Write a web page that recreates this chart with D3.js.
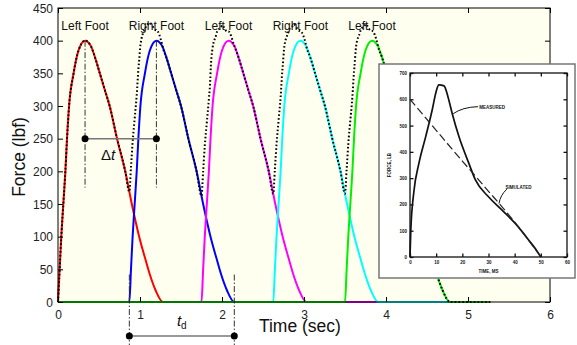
<!DOCTYPE html>
<html>
<head>
<meta charset="utf-8">
<script src="https://cdn.jsdelivr.net/npm/d3@7"></script>
<style>
  body { margin: 0; background: #fff; }
  svg { display: block; font-family: Arial, "Liberation Sans", sans-serif; }
</style>
</head>
<body>
<div id="chart"></div>
<script>
// axis ticks
const timeTicks = [0, 1, 2, 3, 4, 5, 6];
const forceTicks = [0, 50, 100, 150, 200, 250, 300, 350, 400, 450];

// one foot strike: force (lbf) against time since heel contact (sec)
const pulseTau = [0, 0.02, 0.04, 0.065, 0.09, 0.11, 0.135, 0.19, 0.25, 0.33, 0.40, 0.45, 0.51, 0.57, 0.63, 0.72, 0.82, 0.90, 0.99, 1.06, 1.12, 1.19, 1.28];
const pulseForce = [0, 50, 100, 150, 200, 250, 300, 350, 385, 400, 392, 375, 350, 325, 300, 250, 200, 150, 100, 68, 42, 18, 0];

// successive steps
const footStarts = [0, 0.87, 1.75, 2.625, 3.5];
const footLabels = ["Left Foot", "Right Foot", "Left Foot", "Right Foot", "Left Foot"];
const footColors = ["#ff0000", "#0000ff", "#ff00ff", "#00ffff", "#00f000"];
const seriesEnd = 5.27;

// annotation levels (lbf)
const footLabelForce = 422;
const peakDashBottom = 175;
const deltaForce = 250;
const deltaLabel = { t: 0.61, force: 218 };
const tdTop = 42;
const tdBottom = -72;
const tdLineForce = -52;
const tdLabelForce = -36;

// inset: measured vs simulated single footfall (ms, lb)
const insetTimeTicks = [0, 10, 20, 30, 40, 50, 60];
const insetForceTicks = [0, 100, 200, 300, 400, 500, 600, 700];
const measuredMs = [0, 0.3, 1.5, 3.4, 6, 8.5, 10, 11, 13, 14.5, 16.1, 18.7, 22.5, 25, 30, 35.2, 40.3, 45.4, 49.2, 50];
const measuredLb = [0, 100, 250, 356, 458, 560, 630, 655, 651, 610, 547, 458, 356, 293, 229, 178, 127, 64, 13, 0];
const simulatedMs = [0, 10, 20, 25, 30, 35, 40, 45, 50];
const simulatedLb = [600, 482, 365, 308, 250, 193, 133, 68, 0];

const width = 577;
const height = 345;
const margin = { top: 8, right: 27, bottom: 43, left: 58 };
const innerWidth = width - margin.left - margin.right;
const innerHeight = height - margin.top - margin.bottom;

const x = d3.scaleLinear().domain([0, 6]).range([0, innerWidth]);
const y = d3.scaleLinear().domain([0, 450]).range([innerHeight, 0]);

const svg = d3.select("#chart")
  .append("svg")
  .attr("width", width)
  .attr("height", height);

const root = svg.append("g")
  .attr("transform", `translate(${margin.left}, ${margin.top})`);

root.append("rect")
  .attr("width", innerWidth)
  .attr("height", innerHeight)
  .attr("fill", "#fffff0");

const pulseEnd = pulseTau[pulseTau.length - 1];
const peakTau = pulseTau[d3.maxIndex(pulseForce)];

function pulseAt(tau) {
  if (tau <= 0 || tau >= pulseEnd) return 0;
  const i = d3.bisectRight(pulseTau, tau);
  const t0 = pulseTau[i - 1];
  const t1 = pulseTau[i];
  return pulseForce[i - 1] + (pulseForce[i] - pulseForce[i - 1]) * (tau - t0) / (t1 - t0);
}

const feet = footStarts.map((start, i) => {
  const values = [];
  if (start > 0) values.push({ t: 0, f: 0 });
  pulseTau.forEach((tau, j) => values.push({ t: start + tau, f: pulseForce[j] }));
  values.push({ t: seriesEnd, f: 0 });
  return { start, label: footLabels[i], color: footColors[i], values };
});

// dotted curve = total of all foot forces
const allTimes = Array.from(new Set(feet.flatMap((foot) => foot.values.map((v) => v.t))))
  .sort(d3.ascending);
const total = allTimes.map((t) => ({ t, f: d3.sum(footStarts, (s) => pulseAt(t - s)) }));

const line = d3.line()
  .x((d) => x(d.t))
  .y((d) => y(d.f))
  .curve(d3.curveMonotoneX);

root.selectAll(".foot-line")
  .data(feet)
  .join("path")
  .attr("class", "foot-line")
  .attr("fill", "none")
  .attr("stroke", (d) => d.color)
  .attr("stroke-width", 2)
  .attr("stroke-linejoin", "round")
  .attr("d", (d) => line(d.values));

root.append("path")
  .attr("fill", "none")
  .attr("stroke", "#000")
  .attr("stroke-width", 2)
  .attr("stroke-dasharray", "1.6 2.2")
  .attr("d", line(total));

// foot labels
root.selectAll(".foot-label")
  .data(feet)
  .join("text")
  .attr("class", "foot-label")
  .attr("x", (d) => x(d.start + peakTau))
  .attr("y", y(footLabelForce))
  .attr("dy", "0.35em")
  .attr("text-anchor", "middle")
  .attr("font-size", 12)
  .attr("fill", "#111")
  .text((d) => d.label);

// delta t between the first two peaks
const dashStyle = "6 2 1.5 2";
const peakTimes = [feet[0].start + peakTau, feet[1].start + peakTau];
root.selectAll(".peak-dash")
  .data(peakTimes)
  .join("line")
  .attr("class", "peak-dash")
  .attr("x1", (d) => x(d))
  .attr("x2", (d) => x(d))
  .attr("y1", y(400))
  .attr("y2", y(peakDashBottom))
  .attr("stroke", "#333")
  .attr("stroke-width", 1)
  .attr("stroke-dasharray", dashStyle);

root.append("line")
  .attr("x1", x(peakTimes[0]))
  .attr("x2", x(peakTimes[1]))
  .attr("y1", y(deltaForce))
  .attr("y2", y(deltaForce))
  .attr("stroke", "#777")
  .attr("stroke-width", 1.5);

root.selectAll(".delta-dot")
  .data(peakTimes)
  .join("circle")
  .attr("class", "delta-dot")
  .attr("cx", (d) => x(d))
  .attr("cy", y(deltaForce))
  .attr("r", 3.5)
  .attr("fill", "#000");

const deltaText = root.append("text")
  .attr("x", x(deltaLabel.t))
  .attr("y", y(deltaLabel.force))
  .attr("text-anchor", "middle")
  .attr("font-size", 15)
  .attr("fill", "#111");
deltaText.append("tspan").text("Δ");
deltaText.append("tspan").attr("font-style", "italic").text("t");

// t_d : duration of one foot contact
const tdTimes = [feet[1].start, feet[1].start + pulseEnd];
root.selectAll(".td-dash")
  .data(tdTimes)
  .join("line")
  .attr("class", "td-dash")
  .attr("x1", (d) => x(d))
  .attr("x2", (d) => x(d))
  .attr("y1", y(tdTop))
  .attr("y2", y(tdBottom))
  .attr("stroke", "#333")
  .attr("stroke-width", 1)
  .attr("stroke-dasharray", dashStyle);

root.append("line")
  .attr("x1", x(tdTimes[0]))
  .attr("x2", x(tdTimes[1]))
  .attr("y1", y(tdLineForce))
  .attr("y2", y(tdLineForce))
  .attr("stroke", "#777")
  .attr("stroke-width", 1.5);

root.selectAll(".td-dot")
  .data(tdTimes)
  .join("circle")
  .attr("class", "td-dot")
  .attr("cx", (d) => x(d))
  .attr("cy", y(tdLineForce))
  .attr("r", 3.5)
  .attr("fill", "#000");

const tdText = root.append("text")
  .attr("x", x(d3.mean(tdTimes)))
  .attr("y", y(tdLabelForce))
  .attr("text-anchor", "middle")
  .attr("font-size", 15)
  .attr("fill", "#111");
tdText.append("tspan").attr("font-style", "italic").text("t");
tdText.append("tspan").attr("font-size", 10).attr("dy", 3).text("d");

// axes, ticks pointing inward on all four sides
function styleAxis(axis) {
  axis.attr("font-family", null).attr("font-size", null);
  axis.select(".domain").remove();
  axis.selectAll("line").attr("stroke", "#000");
  axis.selectAll("text").attr("font-size", 12).attr("fill", "#222");
}
function dropLabels(axis) {
  axis.selectAll("text").remove();
}

root.append("g")
  .attr("transform", `translate(0, ${innerHeight})`)
  .call(d3.axisBottom(x).tickValues(timeTicks).tickFormat(d3.format("d"))
    .tickSizeInner(-5).tickSizeOuter(0).tickPadding(8))
  .call(styleAxis)
  .call((axis) => axis.selectAll("text").attr("y", 16.5).attr("dy", null));

root.append("g")
  .call(d3.axisLeft(y).tickValues(forceTicks).tickFormat(d3.format("d"))
    .tickSizeInner(-5).tickSizeOuter(0).tickPadding(5))
  .call(styleAxis)
  .call((axis) => axis.selectAll("text").attr("dy", 4.2));

root.append("g")
  .call(d3.axisTop(x).tickValues(timeTicks).tickSizeInner(-5).tickSizeOuter(0))
  .call(styleAxis)
  .call(dropLabels);

root.append("g")
  .attr("transform", `translate(${innerWidth}, 0)`)
  .call(d3.axisRight(y).tickValues(forceTicks).tickSizeInner(-5).tickSizeOuter(0))
  .call(styleAxis)
  .call(dropLabels);

root.append("rect")
  .attr("width", innerWidth)
  .attr("height", innerHeight)
  .attr("fill", "none")
  .attr("stroke", "#000")
  .attr("stroke-width", 1);

svg.append("text")
  .attr("transform", `translate(19, ${margin.top + innerHeight / 2 + 2}) rotate(-90)`)
  .attr("text-anchor", "middle")
  .attr("dy", "0.35em")
  .attr("font-size", 17.5)
  .attr("fill", "#111")
  .text("Force (lbf)");

svg.append("text")
  .attr("x", margin.left + x(2.95))
  .attr("y", 332)
  .attr("text-anchor", "middle")
  .attr("font-size", 17.5)
  .attr("fill", "#111")
  .text("Time (sec)");

// inset: reproduced measured/simulated footfall figure
const insetBox = { x: 379, y: 64, w: 196, h: 214 };
const insetPlot = { left: 410, right: 567, top: 73, bottom: 257 };
const inset = svg.append("g");

inset.append("rect")
  .attr("x", insetBox.x)
  .attr("y", insetBox.y)
  .attr("width", insetBox.w)
  .attr("height", insetBox.h)
  .attr("fill", "#fff")
  .attr("stroke", "#777")
  .attr("stroke-width", 1.5);

const ix = d3.scaleLinear().domain([0, 60]).range([insetPlot.left, insetPlot.right]);
const iy = d3.scaleLinear().domain([0, 700]).range([insetPlot.bottom, insetPlot.top]);

function styleInsetAxis(axis) {
  axis.attr("font-family", null).attr("font-size", null);
  axis.select(".domain").remove();
  axis.selectAll("line").attr("stroke", "#111").attr("stroke-width", 1.3);
  axis.selectAll("text")
    .attr("font-size", 4.5)
    .attr("font-weight", "bold")
    .attr("fill", "#111");
}

inset.append("g")
  .attr("transform", `translate(0, ${insetPlot.bottom})`)
  .call(d3.axisBottom(ix).tickValues(insetTimeTicks).tickSizeInner(-3.5).tickSizeOuter(0).tickPadding(4))
  .call(styleInsetAxis);
inset.append("g")
  .attr("transform", `translate(${insetPlot.left}, 0)`)
  .call(d3.axisLeft(iy).tickValues(insetForceTicks).tickSizeInner(-3.5).tickSizeOuter(0).tickPadding(3))
  .call(styleInsetAxis);
inset.append("g")
  .attr("transform", `translate(0, ${insetPlot.top})`)
  .call(d3.axisTop(ix).tickValues(insetTimeTicks).tickSizeInner(-3.5).tickSizeOuter(0))
  .call(styleInsetAxis)
  .call(dropLabels);
inset.append("g")
  .attr("transform", `translate(${insetPlot.right}, 0)`)
  .call(d3.axisRight(iy).tickValues(insetForceTicks).tickSizeInner(-3.5).tickSizeOuter(0))
  .call(styleInsetAxis)
  .call(dropLabels);

inset.append("rect")
  .attr("x", insetPlot.left)
  .attr("y", insetPlot.top)
  .attr("width", insetPlot.right - insetPlot.left)
  .attr("height", insetPlot.bottom - insetPlot.top)
  .attr("fill", "none")
  .attr("stroke", "#111")
  .attr("stroke-width", 1.3);

const insetLine = d3.line()
  .x((d) => ix(d[0]))
  .y((d) => iy(d[1]))
  .curve(d3.curveMonotoneX);

inset.append("path")
  .attr("fill", "none")
  .attr("stroke", "#111")
  .attr("stroke-width", 1.7)
  .attr("d", insetLine(d3.zip(measuredMs, measuredLb)));

inset.append("path")
  .attr("fill", "none")
  .attr("stroke", "#222")
  .attr("stroke-width", 1.2)
  .attr("stroke-dasharray", "8 3.5")
  .attr("d", insetLine(d3.zip(simulatedMs, simulatedLb)));

inset.append("text")
  .attr("x", ix(26.5))
  .attr("y", iy(570))
  .attr("dy", "0.35em")
  .attr("font-size", 4.5)
  .attr("font-weight", "bold")
  .attr("fill", "#111")
  .text("MEASURED");

inset.append("path")
  .attr("fill", "none")
  .attr("stroke", "#111")
  .attr("stroke-width", 1)
  .attr("d", `M${ix(26)},${iy(572)} Q${ix(20)},${iy(570)} ${ix(16.5)},${iy(545)}`);

inset.append("text")
  .attr("x", ix(36.5))
  .attr("y", iy(266))
  .attr("dy", "0.35em")
  .attr("font-size", 4.5)
  .attr("font-weight", "bold")
  .attr("fill", "#111")
  .text("SIMULATED");

inset.append("path")
  .attr("fill", "none")
  .attr("stroke", "#111")
  .attr("stroke-width", 1)
  .attr("d", `M${ix(37)},${iy(258)} Q${ix(34.5)},${iy(235)} ${ix(34)},${iy(203)}`);

inset.append("text")
  .attr("x", ix(30))
  .attr("y", insetPlot.bottom + 16)
  .attr("text-anchor", "middle")
  .attr("font-size", 4.5)
  .attr("font-weight", "bold")
  .attr("fill", "#111")
  .text("TIME, MS");

inset.append("text")
  .attr("transform", `translate(389, ${iy(350)}) rotate(-90)`)
  .attr("text-anchor", "middle")
  .attr("dy", "0.35em")
  .attr("font-size", 4.5)
  .attr("font-weight", "bold")
  .attr("fill", "#111")
  .text("FORCE, LB");
</script>
</body>
</html>
